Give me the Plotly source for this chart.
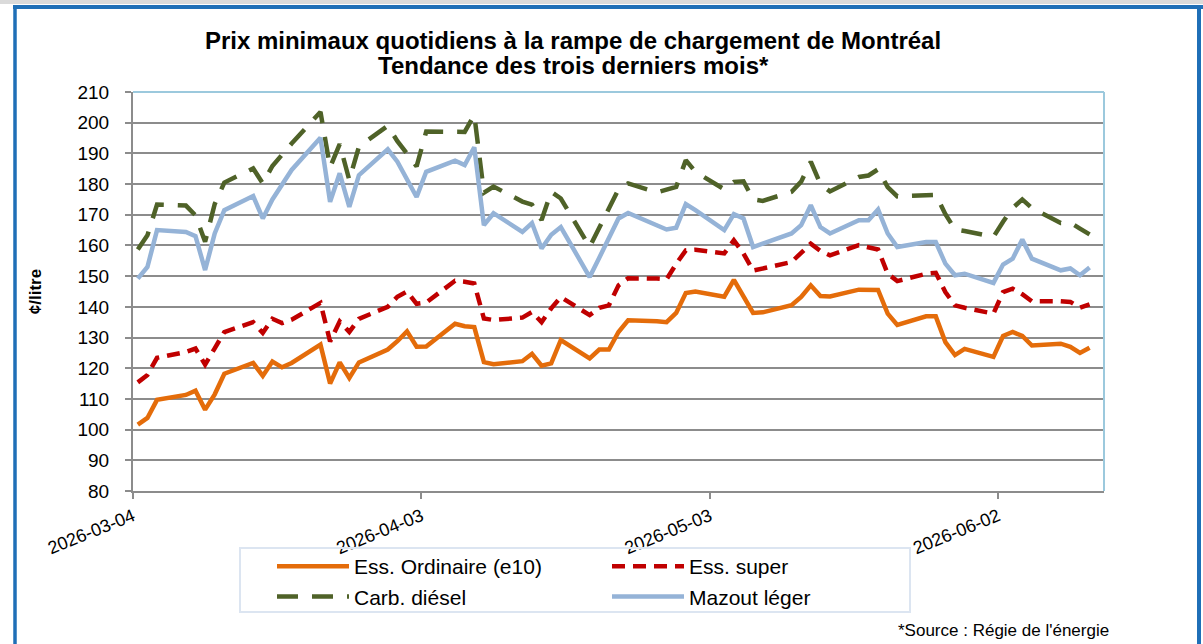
import pandas as pd
import plotly.graph_objects as go

# ---- data ----
dates = pd.bdate_range("2026-03-04", "2026-06-11")   # business days, one value per day

ordinaire = [
    101.6, 103.8, 109.7,
    111.3, 112.7, 106.5, 111.5, 118.2,
    121.7, 117.5, 122.2, 120.3, 121.7,
    127.7, 115.0, 121.9, 116.8, 121.9,
    126.1, 128.8, 132.0, 127.0, 127.1,
    134.5, 133.7, 133.4, 122.0, 121.3,
    122.3, 124.7, 120.8, 121.6, 129.2,
    123.2, 126.1, 126.1, 131.8, 135.6,
    135.3, 135.0, 138.0, 144.5, 145.0,
    143.3, 148.8, 143.5, 138.0, 138.2,
    140.5, 143.2, 147.0, 143.5, 143.4,
    145.6, 145.7, 145.5, 137.8, 134.1,
    136.9, 136.9, 128.5, 124.3, 126.3,
    123.7, 130.5, 131.8, 130.5, 127.4,
    128.0, 127.0, 125.0, 126.7]

super_ess = [
    115.4, 117.8, 123.4,
    125.3, 126.4, 121.2, 126.5, 131.8,
    135.0, 131.5, 136.1, 134.7, 135.8,
    141.3, 128.7, 135.2, 131.8, 136.1,
    140.0, 143.3, 145.0, 141.0, 141.4,
    148.5, 148.2, 147.6, 136.2, 135.7,
    136.5, 138.3, 135.0, 139.5, 143.2,
    137.3, 139.7, 140.5, 147.0, 149.3,
    149.2, 149.0, 154.0, 158.4, 158.6,
    157.4, 161.7, 157.4, 151.8, 152.5,
    154.6, 157.6, 160.6, 158.2, 156.8,
    160.1, 159.5, 158.7, 150.8, 148.4,
    150.8, 151.1, 144.8, 140.5, 139.7,
    137.8, 144.8, 145.9, 144.1, 141.8,
    141.8, 141.6, 139.7, 140.8]

diesel = [
    158.7, 163.3, 173.3,
    173.0, 169.8, 161.2, 173.5, 180.5,
    185.1, 180.2, 185.9, 189.6, 193.2,
    203.5, 185.5, 193.0, 181.3, 192.2,
    199.0, 194.0, 190.0, 185.8, 197.1,
    197.1, 197.0, 202.5, 177.2, 179.2,
    174.3, 173.3, 168.3, 177.5, 175.3,
    159.5, 165.8, 172.0, 178.3, 180.2,
    177.3, 178.2, 179.1, 187.8, 184.0,
    178.3, 180.7, 180.9, 175.0, 174.5,
    177.5, 180.8, 187.3, 180.0, 177.6,
    182.3, 182.8, 184.8, 179.0, 176.0,
    176.3, 176.5, 170.2, 165.2, 164.7,
    162.8, 167.7, 172.2, 175.0, 172.2,
    167.3, 167.4, 165.5, 163.6]

mazout = [
    149.2, 153.0, 165.0,
    164.4, 163.0, 152.0, 163.9, 171.5,
    176.1, 168.8, 175.0, 180.0, 184.6,
    195.1, 174.2, 183.5, 172.6, 182.9,
    191.3, 187.3, 181.3, 175.8, 184.0,
    187.6, 186.2, 192.0, 166.6, 170.5,
    164.4, 167.3, 159.0, 163.5, 166.0,
    149.7, 156.0, 162.5, 168.8, 170.6,
    166.7, 165.2, 165.8, 173.5, 171.5,
    165.0, 170.2, 168.8, 159.5, 160.6,
    163.9, 166.6, 173.1, 166.0, 163.9,
    168.2, 168.2, 171.7, 163.9, 159.5,
    161.1, 161.1, 154.1, 150.3, 150.8,
    147.8, 153.8, 155.7, 161.9, 155.7,
    151.9, 152.5, 150.3, 152.8]

series_names = ["Ess. Ordinaire (e10)", "Ess. super", "Carb. diésel", "Mazout léger"]
tick_dates = ["2026-03-04", "2026-04-03", "2026-05-03", "2026-06-02"]
title_lines = ["Prix minimaux quotidiens à la rampe de chargement de Montréal",
               "Tendance des trois derniers mois*"]

# ---- layout helpers ----
W, H = 1203, 644
L, R, T, B = 133, 1104, 92, 491          # plot-area pixel box


def px(x):
    return (x - L) / (R - L)


def py(y):
    return (B - y) / (B - T)


FONT = "Liberation Sans, Arial, sans-serif"
GRID = "#8C8C8C"
FRAME = "#1F6FB7"

# points sit in the middle of their day (Excel date axis, "between tick marks")
xpos = dates + pd.Timedelta(hours=12)

fig = go.Figure()
fig.add_trace(go.Scatter(x=xpos, y=ordinaire, name=series_names[0], mode="lines",
                         line=dict(color="#E46C0A", width=4.5), legend="legend"))
fig.add_trace(go.Scatter(x=xpos, y=super_ess, name=series_names[1], mode="lines",
                         line=dict(color="#C00000", width=4.5, dash="13px,8px"), legend="legend2"))
fig.add_trace(go.Scatter(x=xpos, y=diesel, name=series_names[2], mode="lines",
                         line=dict(color="#4F6228", width=4.5, dash="21px,14px"), legend="legend"))
fig.add_trace(go.Scatter(x=xpos, y=mazout, name=series_names[3], mode="lines",
                         line=dict(color="#95B3D7", width=4.5), legend="legend2"))

shapes = [
    # plot-area border (top/right, light blue)
    dict(type="line", xref="paper", yref="paper", x0=0, x1=1, y0=1, y1=1,
         line=dict(color="#9CC9DD", width=2), layer="above"),
    dict(type="line", xref="paper", yref="paper", x0=1, x1=1, y0=0, y1=1,
         line=dict(color="#9CC9DD", width=2), layer="above"),
    # legend box
    dict(type="rect", xref="paper", yref="paper", x0=px(240), x1=px(910), y0=py(548), y1=py(612),
         line=dict(color="#DCE5F1", width=2), fillcolor="rgba(0,0,0,0)"),
    # outer frame
    dict(type="rect", xref="paper", yref="paper", x0=px(0), x1=px(W), y0=py(0), y1=py(4),
         line=dict(width=0), fillcolor="#DADADA"),
    dict(type="line", xref="paper", yref="paper", x0=px(13), x1=px(W), y0=py(7), y1=py(7),
         line=dict(color=FRAME, width=4)),
    dict(type="line", xref="paper", yref="paper", x0=px(15), x1=px(15), y0=py(5), y1=py(H),
         line=dict(color=FRAME, width=3.5)),
    dict(type="line", xref="paper", yref="paper", x0=px(1199), x1=px(1199), y0=py(5), y1=py(H),
         line=dict(color=FRAME, width=4)),
]

fig.update_layout(
    width=W, height=H,
    margin=dict(l=L, r=W - R, t=T, b=H - B, autoexpand=False),
    paper_bgcolor="white", plot_bgcolor="white",
    font=dict(family=FONT, color="black"),
    title=dict(text="<b>" + title_lines[0] + "</b>",
               x=573 / W, xanchor="center", y=1 - 32 / H, yanchor="top",
               font=dict(size=24, family=FONT, color="black")),
    xaxis=dict(type="date", range=["2026-03-04", "2026-06-13"],
               tickvals=tick_dates, tickformat="%Y-%m-%d", tickangle=-22,
               ticks="outside", ticklen=6, tickwidth=1.5, tickcolor=GRID,
               showline=True, linecolor=GRID, linewidth=2, showgrid=False, zeroline=False,
               tickfont=dict(size=18, family=FONT, color="black")),
    yaxis=dict(range=[80, 210], tick0=80, dtick=10,
               ticks="outside", ticklen=6, tickwidth=1.5, tickcolor=GRID,
               showline=True, linecolor=GRID, linewidth=2,
               showgrid=True, gridcolor=GRID, gridwidth=1.5, zeroline=False,
               ticklabelstandoff=12,
               tickfont=dict(size=19, family=FONT, color="black")),
    legend=dict(x=px(272), y=py(546), xanchor="left", yanchor="top", orientation="v",
                bgcolor="rgba(0,0,0,0)", borderwidth=0, itemwidth=72,
                font=dict(size=21, family=FONT, color="black")),
    legend2=dict(x=px(607), y=py(546), xanchor="left", yanchor="top", orientation="v",
                 bgcolor="rgba(0,0,0,0)", borderwidth=0, itemwidth=72,
                 font=dict(size=21, family=FONT, color="black")),
    shapes=shapes,
    annotations=[
        dict(text="<b>" + title_lines[1] + "</b>", xref="paper", yref="paper",
             x=px(573), y=py(66), xanchor="center", yanchor="middle", showarrow=False,
             font=dict(size=24, family=FONT, color="black")),
        dict(text="*Source : Régie de l'énergie", xref="paper", yref="paper",
             x=px(1111), y=py(630), xanchor="right", yanchor="middle", showarrow=False,
             font=dict(size=17, family=FONT, color="black")),
    ],
)
fig.update_yaxes(title=dict(text="<b>¢/litre</b>", standoff=32,
                            font=dict(size=17, family=FONT, color="black")))

fig.write_html("out.html", config={"displayModeBar": False},
               post_script="document.body.style.margin='0px';")
